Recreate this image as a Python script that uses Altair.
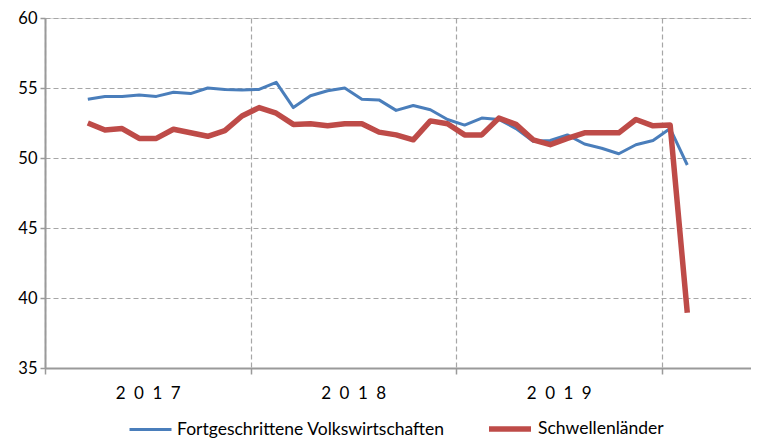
import altair as alt
import pandas as pd

# months since Jan 2017 (Mar 2017 .. Feb 2020)
months = list(range(2, 38))

fortgeschrittene = [
    54.2, 54.4, 54.4, 54.5, 54.4, 54.7, 54.6, 55.0, 54.9, 54.85,
    54.9, 55.4, 53.6, 54.45, 54.8, 55.0, 54.2, 54.15, 53.4, 53.75, 53.45, 52.75,
    52.35, 52.85, 52.75, 52.1, 51.2, 51.25, 51.65, 51.0, 50.7, 50.3, 50.95, 51.25,
    52.1, 49.5,
]
schwellen = [
    52.5, 52.0, 52.1, 51.4, 51.4, 52.05, 51.8, 51.55, 51.95, 53.0,
    53.6, 53.2, 52.4, 52.45, 52.3, 52.45, 52.45, 51.85, 51.65, 51.3, 52.65, 52.45,
    51.65, 51.65, 52.85, 52.4, 51.3, 50.95, 51.4, 51.8, 51.8, 51.8, 52.75, 52.3,
    52.35, 38.95,
]
series_names = ["Fortgeschrittene Volkswirtschaften", "Schwellenländer"]
colors = ["#4a7ebb", "#be4b48"]
widths = [3, 5.5]
year_ticks = [0, 12, 24, 36]
year_labels = ["2\u20020\u20021\u20027", "2\u20020\u20021\u20028", "2\u20020\u20021\u20029", ""]
y_ticks = [35, 40, 45, 50, 55, 60]

rows = []
for name, vals in zip(series_names, [fortgeschrittene, schwellen]):
    for m, v in zip(months, vals):
        rows.append({"m": m + 0.5, "v": v, "series": name})
df = pd.DataFrame(rows)

FONT = "Lato, sans-serif"
label_expr = "[" + ",".join("'%s'" % s for s in year_labels) + "][datum.value / 12]"

x = alt.X("m:Q", scale=alt.Scale(domain=[0, 41.22], nice=False, zero=False),
          axis=alt.Axis(values=year_ticks, labelExpr=label_expr, title=None,
                        grid=True, gridDash=[5, 3], gridColor="#a6a6a6", gridWidth=1.2,
                        domainColor="#9a9a9a", domainWidth=2, tickColor="#9a9a9a",
                        tickWidth=1.5, tickSize=6, labelOffset=102.7, labelPadding=11,
                        labelFlush=False, labelOverlap=False,
                        labelFontSize=17, labelFont=FONT, labelColor="#000000"))
y = alt.Y("v:Q", scale=alt.Scale(domain=[35, 60], nice=False, zero=False),
          axis=alt.Axis(values=y_ticks, title=None, grid=True, gridDash=[5, 3],
                        gridColor="#a6a6a6", gridWidth=1.2, domainColor="#9a9a9a",
                        domainWidth=2, tickColor="#9a9a9a", tickWidth=1.5, tickSize=5,
                        labelPadding=3, labelFontSize=16.5, labelFont=FONT,
                        labelColor="#000000"))

leg = alt.Legend(title=None, orient="none", legendX=83, legendY=387, direction="horizontal",
                 symbolType="stroke", symbolSize=1764, labelFontSize=17.5, labelFont=FONT,
                 labelColor="#000000", columnPadding=33, labelOffset=4, labelLimit=0,
                 padding=0)
color = alt.Color("series:N", scale=alt.Scale(domain=series_names, range=colors), legend=leg)
sw = alt.StrokeWidth("series:N", scale=alt.Scale(domain=series_names, range=widths), legend=leg)

base = alt.Chart(df).mark_line(strokeJoin="round", strokeCap="butt").encode(
    x=x, y=y, color=color, strokeWidth=sw)

blue = base.transform_filter(alt.datum.series == series_names[0])
red = base.transform_filter(alt.datum.series == series_names[1])

chart = alt.layer(blue, red).properties(
    width=706, height=350,
    autosize=alt.AutoSizeParams(type="none"),
    padding={"left": 37, "top": 10, "right": 0, "bottom": 71},
).configure_view(stroke=None).configure(background="#ffffff")

chart.save("out.html", embed_options={"renderer": "svg", "actions": False})
